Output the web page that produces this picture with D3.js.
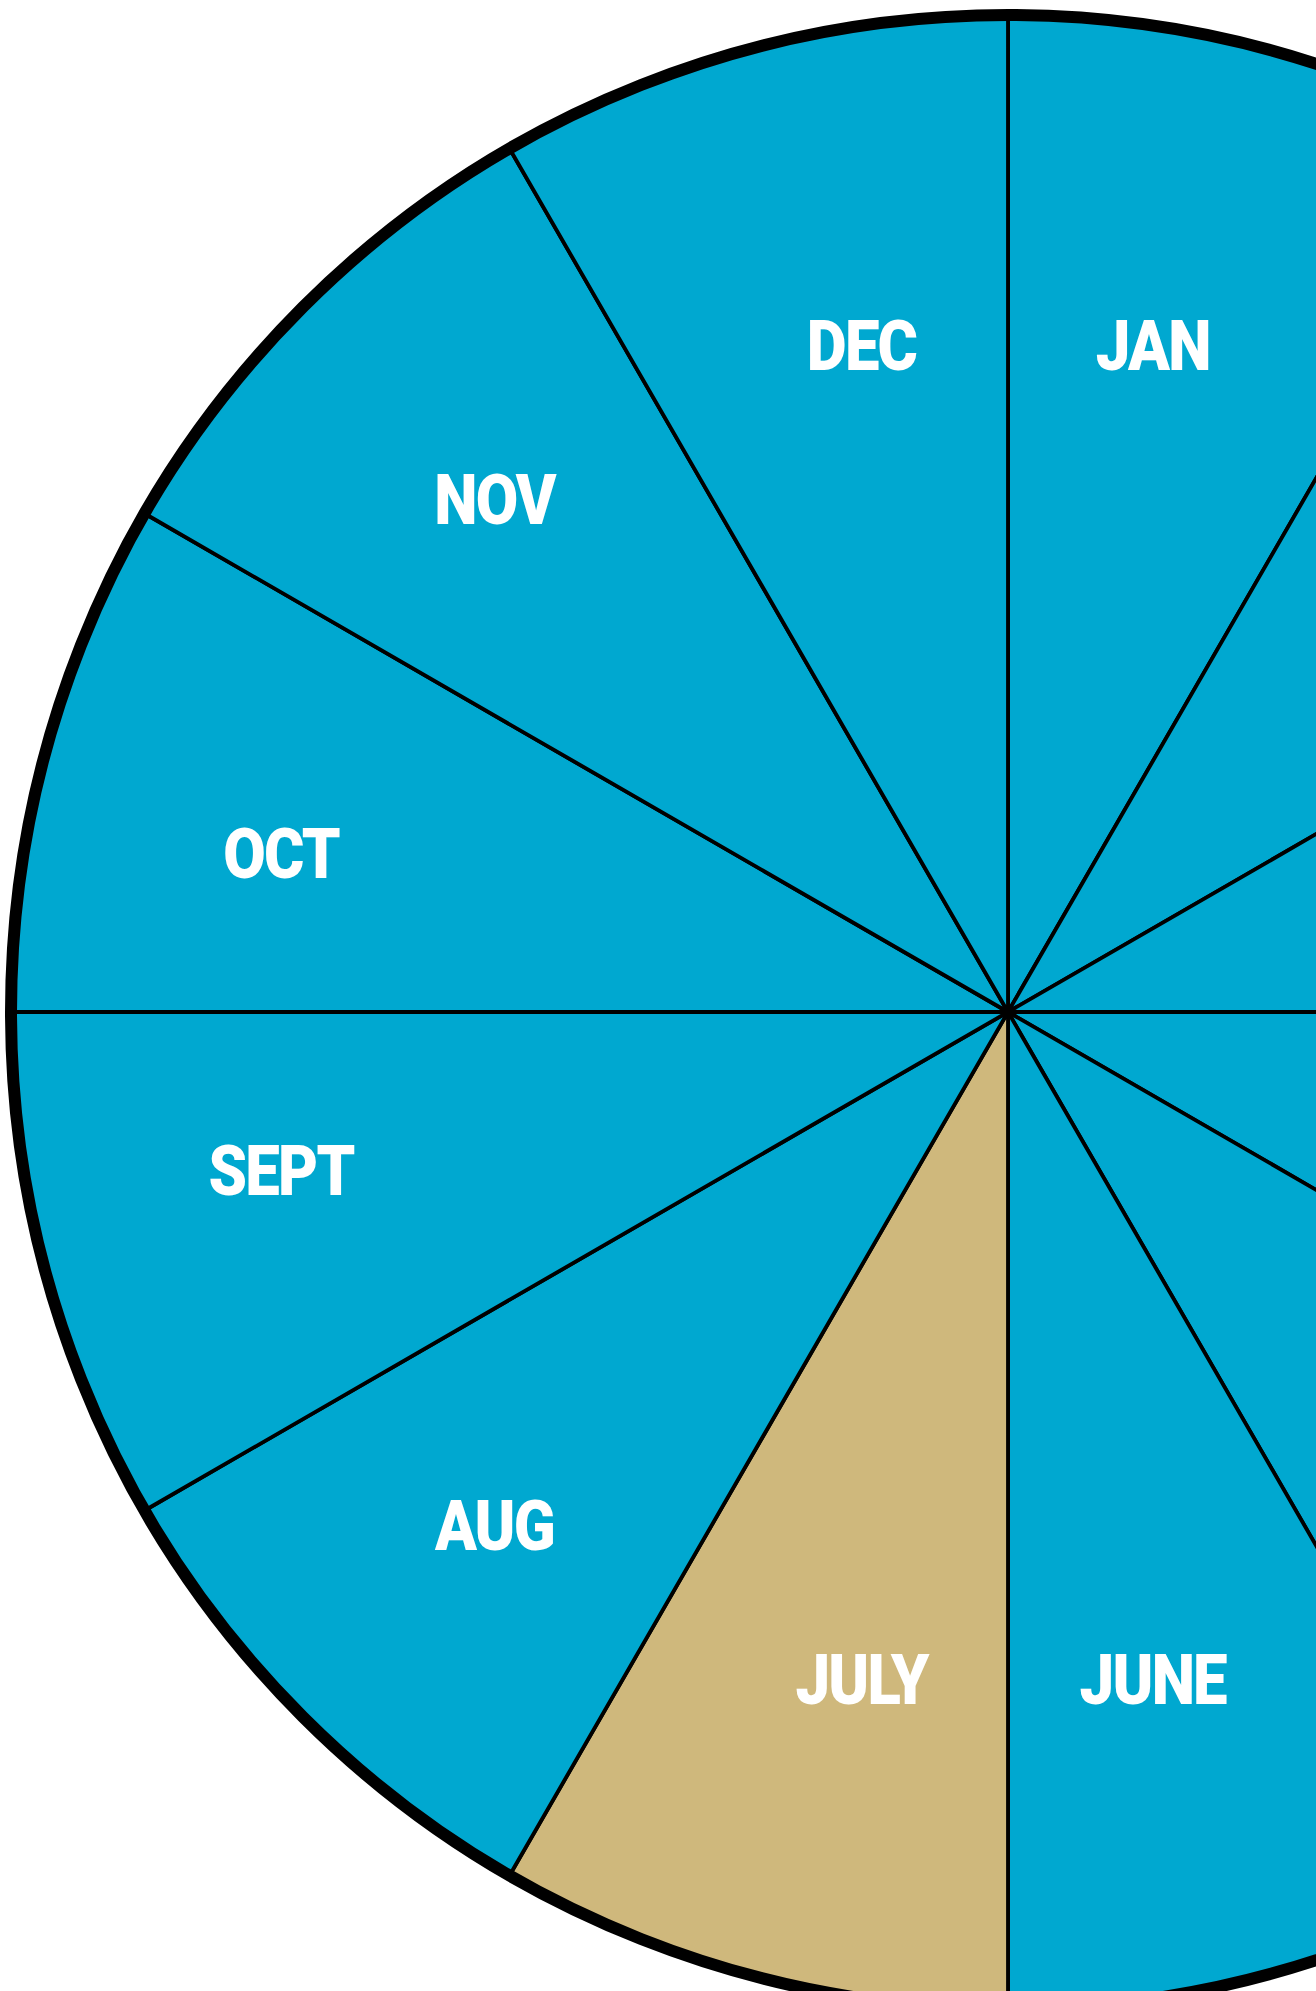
<!DOCTYPE html>
<html>
<head>
<meta charset="utf-8">
<script src="https://cdn.jsdelivr.net/npm/d3@7"></script>
<style>
  html, body { margin: 0; padding: 0; background: #fff; overflow: hidden; }
  svg { display: block; }
  .month-label { font-family: Roboto, "Liberation Sans", sans-serif; font-weight: 900; fill: #fff; letter-spacing: -2px; }
</style>
</head>
<body>
<svg id="wheel"></svg>
<script>
// Months in clockwise order starting at 12 o'clock
const months = ['JAN', 'FEB', 'MAR', 'APR', 'MAY', 'JUNE', 'JULY', 'AUG', 'SEPT', 'OCT', 'NOV', 'DEC'];
const shares = [1, 1, 1, 1, 1, 1, 1, 1, 1, 1, 1, 1];
const highlighted = ['JULY'];

const W = 1316, H = 1991;
const cx = 1008, cy = 1012, R = 997;

const svg = d3.select('#wheel')
  .attr('width', W)
  .attr('height', H)
  .attr('viewBox', `0 0 ${W} ${H}`);

const g = svg.append('g').attr('transform', `translate(${cx},${cy})`);

const pie = d3.pie().sort(null).value((d, i) => shares[i]);
const arcs = pie(months);

const arc = d3.arc().innerRadius(0).outerRadius(R);

const color = d => highlighted.includes(d.data) ? '#cfb87c' : '#00a8d0';

// Slices
g.selectAll('.slice')
  .data(arcs)
  .join('path')
    .attr('class', 'slice')
    .attr('d', arc)
    .attr('fill', color)
    .attr('stroke', '#000')
    .attr('stroke-width', 3.8)
    .attr('stroke-linejoin', 'round');

// Outer rim
g.append('circle')
  .attr('r', R)
  .attr('fill', 'none')
  .attr('stroke', '#000')
  .attr('stroke-width', 12);

// Labels — nudged toward the nearest axis, further out near the horizontal
const labelPos = d => {
  const mid = (d.startAngle + d.endAngle) / 2;
  const a = mid - (3.1 * Math.PI / 180) * Math.sin(4 * mid);
  const c = Math.cos(2 * mid);
  const r = 725 - 35 * c - 14 * Math.abs(c);
  return [r * Math.sin(a), -r * Math.cos(a)];
};

g.selectAll('.month-label')
  .data(arcs)
  .join('text')
    .attr('class', 'month-label')
    .attr('transform', d => {
      const [x, y] = labelPos(d);
      return `translate(${x},${y}) scale(0.88,1)`;
    })
    .attr('text-anchor', 'middle')
    .attr('dx', -1)
    .attr('dy', '0.355em')
    .attr('font-size', 70)
    .text(d => d.data);
</script>
</body>
</html>
